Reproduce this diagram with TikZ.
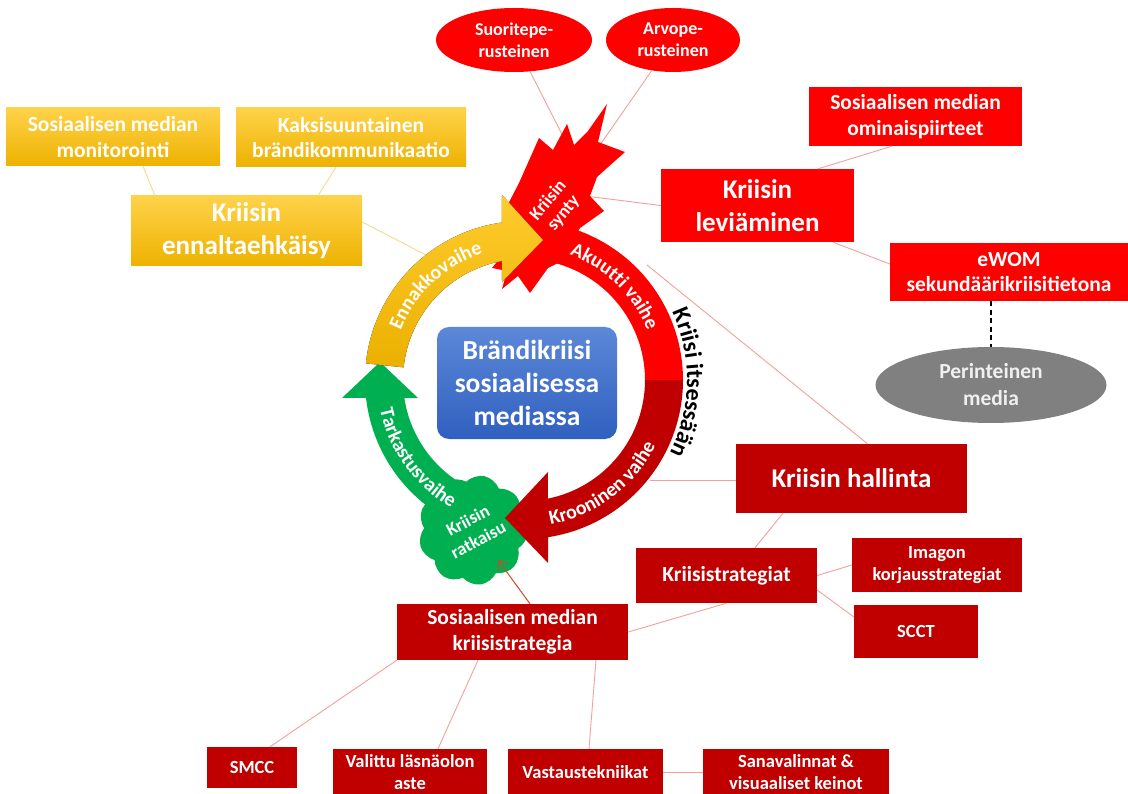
\documentclass[tikz,border=0pt]{standalone}
\usepackage{fontspec}
\setmainfont{Carlito}
\usetikzlibrary{shapes.geometric,shapes.symbols,calc,decorations.text,arrows.meta}

\definecolor{goldtop}{HTML}{FFD24A}
\definecolor{goldbot}{HTML}{EDB200}
\definecolor{ringtop}{HTML}{FFCC2E}
\definecolor{ringbot}{HTML}{EBB000}
\definecolor{redA}{HTML}{FF0000}
\definecolor{redB}{HTML}{C00000}
\definecolor{grn}{HTML}{00B050}
\definecolor{bluetop}{HTML}{5C88D8}
\definecolor{bluebot}{HTML}{3060C0}
\definecolor{greyov}{HTML}{808080}
\definecolor{linered}{HTML}{F4A09A}
\definecolor{lineyel}{HTML}{F9D98C}
\definecolor{arrowred}{HTML}{D0482A}

\begin{document}
\begin{tikzpicture} [
    x=1pt, y=1pt,
    box/.style      = { rectangle, draw=none, text=white, align=center, inner sep=0pt,
                        font=\bfseries\fontsize{21.5}{25.5}\selectfont },
    bigbox/.style   = { box, font=\bfseries\fontsize{27}{33}\selectfont },
    smallbox/.style = { box, font=\bfseries\fontsize{18.5}{22}\selectfont },
    ybox/.style     = { top color=goldtop, bottom color=goldbot },
    rbox/.style     = { fill=redA },
    dbox/.style     = { fill=redB },
    oval/.style     = { ellipse, draw=none, text=white, align=center, inner sep=0pt,
                        font=\bfseries\fontsize{18}{22}\selectfont },
    line/.style     = { draw=linered, line width=0.9pt },
    yline/.style    = { draw=lineyel, line width=0.9pt },
    arrowline/.style= { draw=arrowred, line width=1pt, -{Straight Barb[length=8pt,width=12pt]} },
    arctext/.style  = { decorate, decoration={text along path, text align=center,
                        text color=white, text={|\bfseries\fontsize{20}{20}\selectfont|#1}} },
    blackarc/.style = { decorate, decoration={text along path, text align=center,
                        text color=black, text={|\bfseries\fontsize{24}{24}\selectfont|#1}} },
  ]

  \fill[white] (0,0) rectangle (1128,-794);
  \useasboundingbox (0,0) rectangle (1128,-794);

  % Define nodes
  \node[box, ybox, minimum width=214pt, minimum height=58pt] (monit) at (113,-137) {Sosiaalisen median\\monitorointi};
  \node[box, ybox, minimum width=230pt, minimum height=59pt] (kaksi) at (351,-137.5) {Kaksisuuntainen\\brändikommunikaatio};
  \node[bigbox, ybox, minimum width=231pt, minimum height=70pt] (ennal) at (246.5,-231) {Kriisin\\ennaltaehkäisy};

  \node[oval, fill=redA, minimum width=156pt, minimum height=64pt] (suor) at (514,-40) {Suoritepe-\\rusteinen};
  \node[oval, fill=redA, minimum width=134pt, minimum height=64pt] (arvo) at (673,-40) {Arvope-\\rusteinen};

  \node[box, rbox, minimum width=213pt, minimum height=59pt] (omin) at (915.5,-116.5) {Sosiaalisen median\\ominaispiirteet};
  \node[bigbox, rbox, minimum width=193pt, minimum height=73pt] (levi) at (757.5,-205.5) {Kriisin\\leviäminen};
  \node[box, rbox, minimum width=238pt, minimum height=58pt] (ewom) at (1009,-272) {eWOM\\sekundäärikriisitietona};
  \node[oval, fill=greyov, text=black!6, minimum width=231pt, minimum height=76pt,
        font=\bfseries\fontsize{21.5}{27}\selectfont] (perin) at (991,-385) {Perinteinen\\media};

  \node[bigbox, dbox, minimum width=231pt, minimum height=69pt] (hall) at (851.5,-478.5) {Kriisin hallinta};
  \node[box, dbox, minimum width=181pt, minimum height=55pt] (strat) at (726.5,-575.5) {Kriisistrategiat};
  \node[smallbox, dbox, minimum width=170pt, minimum height=54pt] (imago) at (937,-565) {Imagon\\korjausstrategiat};
  \node[smallbox, dbox, minimum width=124pt, minimum height=53pt] (scct) at (916,-631.5) {SCCT};
  \node[box, dbox, minimum width=231pt, minimum height=56pt] (smkr) at (512.5,-632) {Sosiaalisen median\\kriisistrategia};
  \node[smallbox, dbox, minimum width=90pt, minimum height=41pt] (smcc) at (252,-767.5) {SMCC};
  \node[smallbox, dbox, minimum width=154pt, minimum height=47pt] (valit) at (410,-772.5) {Valittu läsnäolon\\aste};
  \node[smallbox, dbox, minimum width=155pt, minimum height=47pt] (vast) at (585.5,-772.5) {Vastaustekniikat};
  \node[smallbox, dbox, minimum width=186pt, minimum height=47pt] (sana) at (796,-772.5) {Sanavalinnat \&\\visuaaliset keinot};

  % end points on the cycle
  \coordinate (C) at (524,-380);
  \coordinate (ennakko) at (426,-255);
  \coordinate (synty1) at (570,-150);
  \coordinate (synty2) at (600,-145);
  \coordinate (synty3) at (585,-196);
  \coordinate (akuutti) at (647,-265);
  \coordinate (krooni) at (650,-480);
  \coordinate (ratkend) at (498,-560);

  % connect the nodes
  \path [yline] ([xshift=30pt]monit.south) -- ([xshift=-91.5pt]ennal.north);
  \path [yline] ([xshift=-15pt]kaksi.south) -- ([xshift=71.5pt]ennal.north);
  \path [yline] ([yshift=9pt]ennal.east) -- (ennakko);
  \path [line] (suor) -- (synty1);
  \path [line] (arvo) -- (synty2);
  \path [line] (synty3) -- (levi.west);
  \path [line] ([xshift=60.5pt]levi.north) -- ([xshift=-23.5pt]omin.south);
  \path [line] ([xshift=75.5pt]levi.south) -- ([yshift=8pt]ewom.west);
  \path [draw, dash pattern=on 5pt off 3.5pt, line width=1.2pt] (perin.north |- ewom.south) -- (perin.north);
  \path [line] (akuutti) -- ([xshift=16pt]hall.north);
  \path [line] (krooni) -- (krooni -| hall.west);
  \path [line] ([xshift=-68.5pt]hall.south) -- ([xshift=28.5pt]strat.north);
  \path [line] (strat.east) -- (imago.west);
  \path [line] ([yshift=-14.5pt]strat.east) -- ([yshift=14.5pt]scct.west);
  \path [line] (strat.south) -- (smkr.east);
  \path [line] (smkr.south west) -- ([xshift=18pt]smcc.north);
  \path [line] ([xshift=-34.5pt]smkr.south) -- ([xshift=28pt]valit.north);
  \path [line] ([xshift=83.5pt]smkr.south) -- ([xshift=3.5pt]vast.north);
  \path [line] (vast.east) -- (sana.west);

  % the cycle
  \fill[grn] ($(C)+(-100:159)$) arc[start angle=-100, end angle=-173.5, radius=159]
    -- (342,-398) -- (380,-362) -- (418,-398)
    -- ($(C)+(-171.4:121)$) arc[start angle=-171.4, end angle=-100, radius=121] -- cycle;
  \node[cloud, cloud puffs=9, cloud puff arc=115, aspect=1, fill=grn, inner sep=0pt, minimum width=110pt,
        minimum height=110pt, rotate=28, text=white, align=center,
        font=\bfseries\fontsize{18}{22}\selectfont] (ratk) at (473,-530) {Kriisin\\ratkaisu};
  \fill[redB] ($(C)+(0:159)$) arc[start angle=0, end angle=-81.3, radius=159]
    -- (548,-563) -- (505,-518) -- (548,-472)
    -- ($(C)+(-78.6:121)$) arc[start angle=-78.6, end angle=0, radius=121] -- cycle;
  \fill[redA] ($(C)+(95:159)$) arc[start angle=95, end angle=0, radius=159]
    -- ($(C)+(0:121)$) arc[start angle=0, end angle=95, radius=121] -- cycle;
  \fill[redA] (607,-104) -- (598,-142) -- (625,-152) -- (597,-177) -- (590,-196)
    -- (604,-211) -- (580,-228) -- (560,-262) -- (548,-268) -- (530,-293)
    -- (518,-276) -- (502,-289) -- (507,-271) -- (492,-268) -- (505,-252)
    -- (505,-210) -- (519,-183) -- (539,-138) -- (553,-150) -- (567,-124)
    -- (574,-145) -- (588,-131) -- cycle;
  \fill[top color=ringtop, bottom color=ringbot] ($(C)+(174:159)$) arc[start angle=174, end angle=98, radius=159]
    -- (502,-195) -- (543,-240) -- (502,-282)
    -- ($(C)+(100.5:121)$) arc[start angle=100.5, end angle=174, radius=121] -- cycle;

  \node[rotate=50, text=white, align=center, inner sep=0pt,
        font=\bfseries\fontsize{18}{20}\selectfont] (synty) at (556,-207) {Kriisin\\synty};
  \node[box, rounded corners=12pt, top color=bluetop, bottom color=bluebot,
        minimum width=180pt, minimum height=112pt,
        font=\bfseries\fontsize{27.5}{33}\selectfont] (brand) at (527,-383) {Brändikriisi\\sosiaalisessa\\mediassa};

  \path [arctext=Ennakkovaihe] ($(C)+(173:133)$) arc[start angle=173, end angle=93, radius=133];
  \path [arctext=Akuutti vaihe] ($(C)+(86:133)$) arc[start angle=86, end angle=6, radius=133];
  \path [arctext=Krooninen vaihe] ($(C)+(-93:147)$) arc[start angle=-93, end angle=-13, radius=147];
  \path [arctext=Tarkastusvaihe] ($(C)+(176:147)$) arc[start angle=176, end angle=256, radius=147];
  \path [blackarc=Kriisi itsessään] ($(C)+(44:163)$) arc[start angle=44, end angle=-46, radius=163];

  \path [arrowline] ([xshift=17.5pt]smkr.north) -- (ratkend);
\end{tikzpicture}
\end{document}
